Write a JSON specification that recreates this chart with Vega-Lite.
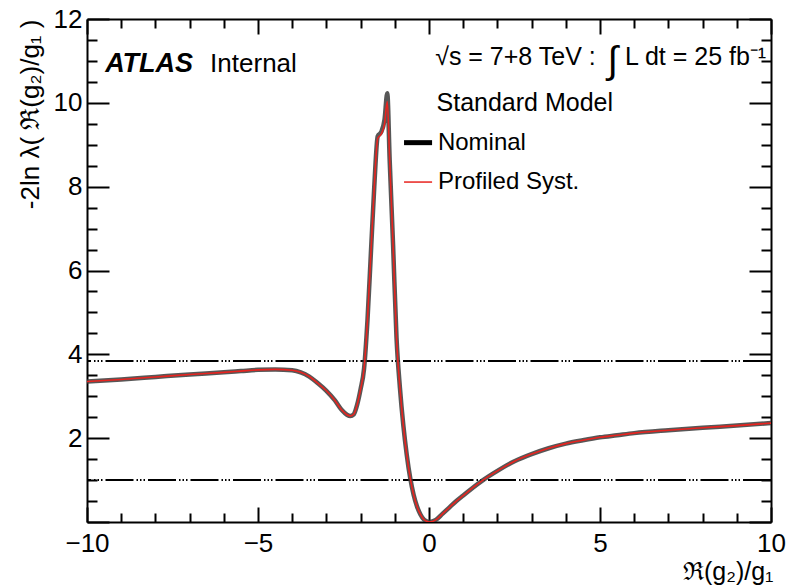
{
  "$schema": "https://vega.github.io/schema/vega-lite/v6.json",
  "width": 684,
  "height": 503,
  "autosize": {"type": "none"},
  "padding": {"left": 87, "top": 19, "right": 17, "bottom": 66},
  "background": "white",
  "config": {
    "view": {"stroke": null},
    "font": "Liberation Sans",
    "axis": {
      "grid": false,
      "domainColor": "black",
      "domainWidth": 2,
      "tickColor": "black",
      "tickWidth": 2,
      "labelColor": "black",
      "labelFont": "Liberation Sans",
      "labelFontSize": 26,
      "labelFlush": false,
      "labelOverlap": false,
      "titleColor": "black",
      "titleFont": "Liberation Sans",
      "titleFontWeight": "normal"
    },
    "text": {"font": "Liberation Sans", "color": "black"}
  },
  "datasets": {
    "curves": [
      {"series": "Nominal", "r": -10, "nll": 3.35},
      {"series": "Nominal", "r": -9, "nll": 3.4},
      {"series": "Nominal", "r": -8, "nll": 3.46},
      {"series": "Nominal", "r": -7, "nll": 3.52},
      {"series": "Nominal", "r": -6, "nll": 3.57},
      {"series": "Nominal", "r": -5.5, "nll": 3.6},
      {"series": "Nominal", "r": -5, "nll": 3.63},
      {"series": "Nominal", "r": -4.5, "nll": 3.64},
      {"series": "Nominal", "r": -4, "nll": 3.62},
      {"series": "Nominal", "r": -3.75, "nll": 3.57},
      {"series": "Nominal", "r": -3.5, "nll": 3.47},
      {"series": "Nominal", "r": -3.25, "nll": 3.31},
      {"series": "Nominal", "r": -3.0, "nll": 3.13},
      {"series": "Nominal", "r": -2.75, "nll": 2.9},
      {"series": "Nominal", "r": -2.55, "nll": 2.67},
      {"series": "Nominal", "r": -2.4, "nll": 2.56},
      {"series": "Nominal", "r": -2.3, "nll": 2.53},
      {"series": "Nominal", "r": -2.2, "nll": 2.57},
      {"series": "Nominal", "r": -2.1, "nll": 2.8},
      {"series": "Nominal", "r": -2.0, "nll": 3.17},
      {"series": "Nominal", "r": -1.9, "nll": 3.65},
      {"series": "Nominal", "r": -1.8, "nll": 4.8},
      {"series": "Nominal", "r": -1.7, "nll": 6.4},
      {"series": "Nominal", "r": -1.6, "nll": 8.0},
      {"series": "Nominal", "r": -1.5, "nll": 9.2},
      {"series": "Nominal", "r": -1.4, "nll": 9.3},
      {"series": "Nominal", "r": -1.3, "nll": 9.6},
      {"series": "Nominal", "r": -1.22, "nll": 10.23},
      {"series": "Nominal", "r": -1.15, "nll": 8.64},
      {"series": "Nominal", "r": -1.05, "nll": 6.6},
      {"series": "Nominal", "r": -0.95, "nll": 4.4},
      {"series": "Nominal", "r": -0.85, "nll": 3.2},
      {"series": "Nominal", "r": -0.75, "nll": 2.3},
      {"series": "Nominal", "r": -0.65, "nll": 1.6},
      {"series": "Nominal", "r": -0.55, "nll": 1.05},
      {"series": "Nominal", "r": -0.45, "nll": 0.65},
      {"series": "Nominal", "r": -0.35, "nll": 0.37},
      {"series": "Nominal", "r": -0.25, "nll": 0.18},
      {"series": "Nominal", "r": -0.15, "nll": 0.06},
      {"series": "Nominal", "r": -0.05, "nll": 0.01},
      {"series": "Nominal", "r": 0, "nll": 0.0},
      {"series": "Nominal", "r": 0.2, "nll": 0.05},
      {"series": "Nominal", "r": 0.4, "nll": 0.2},
      {"series": "Nominal", "r": 0.6, "nll": 0.35},
      {"series": "Nominal", "r": 0.8, "nll": 0.5},
      {"series": "Nominal", "r": 1.0, "nll": 0.63},
      {"series": "Nominal", "r": 1.3, "nll": 0.83},
      {"series": "Nominal", "r": 1.58, "nll": 1.0},
      {"series": "Nominal", "r": 2.0, "nll": 1.22},
      {"series": "Nominal", "r": 2.5, "nll": 1.45},
      {"series": "Nominal", "r": 3.0, "nll": 1.62},
      {"series": "Nominal", "r": 3.5, "nll": 1.76},
      {"series": "Nominal", "r": 4.0, "nll": 1.87},
      {"series": "Nominal", "r": 4.5, "nll": 1.95},
      {"series": "Nominal", "r": 5.0, "nll": 2.02},
      {"series": "Nominal", "r": 5.5, "nll": 2.07},
      {"series": "Nominal", "r": 6.0, "nll": 2.12},
      {"series": "Nominal", "r": 7.0, "nll": 2.19},
      {"series": "Nominal", "r": 8.0, "nll": 2.25},
      {"series": "Nominal", "r": 9.0, "nll": 2.3},
      {"series": "Nominal", "r": 10, "nll": 2.36},
      {"series": "Profiled Syst.", "r": -10, "nll": 3.35},
      {"series": "Profiled Syst.", "r": -9, "nll": 3.4},
      {"series": "Profiled Syst.", "r": -8, "nll": 3.46},
      {"series": "Profiled Syst.", "r": -7, "nll": 3.52},
      {"series": "Profiled Syst.", "r": -6, "nll": 3.57},
      {"series": "Profiled Syst.", "r": -5.5, "nll": 3.6},
      {"series": "Profiled Syst.", "r": -5, "nll": 3.63},
      {"series": "Profiled Syst.", "r": -4.5, "nll": 3.64},
      {"series": "Profiled Syst.", "r": -4, "nll": 3.62},
      {"series": "Profiled Syst.", "r": -3.75, "nll": 3.57},
      {"series": "Profiled Syst.", "r": -3.5, "nll": 3.47},
      {"series": "Profiled Syst.", "r": -3.25, "nll": 3.31},
      {"series": "Profiled Syst.", "r": -3.0, "nll": 3.13},
      {"series": "Profiled Syst.", "r": -2.75, "nll": 2.9},
      {"series": "Profiled Syst.", "r": -2.55, "nll": 2.67},
      {"series": "Profiled Syst.", "r": -2.4, "nll": 2.56},
      {"series": "Profiled Syst.", "r": -2.3, "nll": 2.53},
      {"series": "Profiled Syst.", "r": -2.2, "nll": 2.57},
      {"series": "Profiled Syst.", "r": -2.1, "nll": 2.8},
      {"series": "Profiled Syst.", "r": -2.0, "nll": 3.17},
      {"series": "Profiled Syst.", "r": -1.9, "nll": 3.65},
      {"series": "Profiled Syst.", "r": -1.8, "nll": 4.8},
      {"series": "Profiled Syst.", "r": -1.7, "nll": 6.4},
      {"series": "Profiled Syst.", "r": -1.6, "nll": 8.0},
      {"series": "Profiled Syst.", "r": -1.5, "nll": 9.15},
      {"series": "Profiled Syst.", "r": -1.4, "nll": 9.25},
      {"series": "Profiled Syst.", "r": -1.3, "nll": 9.5},
      {"series": "Profiled Syst.", "r": -1.22, "nll": 10.03},
      {"series": "Profiled Syst.", "r": -1.15, "nll": 8.64},
      {"series": "Profiled Syst.", "r": -1.05, "nll": 6.6},
      {"series": "Profiled Syst.", "r": -0.95, "nll": 4.4},
      {"series": "Profiled Syst.", "r": -0.85, "nll": 3.2},
      {"series": "Profiled Syst.", "r": -0.75, "nll": 2.3},
      {"series": "Profiled Syst.", "r": -0.65, "nll": 1.6},
      {"series": "Profiled Syst.", "r": -0.55, "nll": 1.05},
      {"series": "Profiled Syst.", "r": -0.45, "nll": 0.65},
      {"series": "Profiled Syst.", "r": -0.35, "nll": 0.37},
      {"series": "Profiled Syst.", "r": -0.25, "nll": 0.18},
      {"series": "Profiled Syst.", "r": -0.15, "nll": 0.06},
      {"series": "Profiled Syst.", "r": -0.05, "nll": 0.01},
      {"series": "Profiled Syst.", "r": 0, "nll": 0.0},
      {"series": "Profiled Syst.", "r": 0.2, "nll": 0.05},
      {"series": "Profiled Syst.", "r": 0.4, "nll": 0.2},
      {"series": "Profiled Syst.", "r": 0.6, "nll": 0.35},
      {"series": "Profiled Syst.", "r": 0.8, "nll": 0.5},
      {"series": "Profiled Syst.", "r": 1.0, "nll": 0.63},
      {"series": "Profiled Syst.", "r": 1.3, "nll": 0.83},
      {"series": "Profiled Syst.", "r": 1.58, "nll": 1.0},
      {"series": "Profiled Syst.", "r": 2.0, "nll": 1.22},
      {"series": "Profiled Syst.", "r": 2.5, "nll": 1.45},
      {"series": "Profiled Syst.", "r": 3.0, "nll": 1.62},
      {"series": "Profiled Syst.", "r": 3.5, "nll": 1.76},
      {"series": "Profiled Syst.", "r": 4.0, "nll": 1.87},
      {"series": "Profiled Syst.", "r": 4.5, "nll": 1.95},
      {"series": "Profiled Syst.", "r": 5.0, "nll": 2.02},
      {"series": "Profiled Syst.", "r": 5.5, "nll": 2.07},
      {"series": "Profiled Syst.", "r": 6.0, "nll": 2.12},
      {"series": "Profiled Syst.", "r": 7.0, "nll": 2.19},
      {"series": "Profiled Syst.", "r": 8.0, "nll": 2.25},
      {"series": "Profiled Syst.", "r": 9.0, "nll": 2.3},
      {"series": "Profiled Syst.", "r": 10, "nll": 2.36}
    ],
    "levels": [{"level": 1.0}, {"level": 3.84}]
  },
  "resolve": {"axis": {"x": "independent", "y": "independent"}},
  "layer": [
    {
      "data": {"name": "levels"},
      "mark": {"type": "rule", "color": "black", "strokeWidth": 2, "strokeDash": [28, 3, 1.5, 2, 1.5, 2, 1.5, 3]},
      "encoding": {
        "y": {"field": "level", "type": "quantitative", "scale": {"domain": [0, 12], "nice": false, "zero": false}, "axis": null}
      }
    },
    {
      "data": {"name": "curves"},
      "transform": [{"filter": "datum.series === 'Nominal'"}],
      "mark": {"type": "line", "color": "#3a3a3a", "strokeWidth": 4.5, "opacity": 0.85, "interpolate": "monotone", "clip": true},
      "encoding": {
        "x": {
          "field": "r", "type": "quantitative",
          "scale": {"domain": [-10, 10], "nice": false, "zero": false},
          "axis": {
            "orient": "bottom",
            "values": [-10, -9, -8, -7, -6, -5, -4, -3, -2, -1, 0, 1, 2, 3, 4, 5, 6, 7, 8, 9, 10],
            "tickSize": {"condition": {"test": "datum.value % 5 === 0", "value": -15}, "value": -9},
            "labelExpr": "datum.value % 5 === 0 ? datum.label : ''",
            "labelPadding": 23,
            "title": "ℜ(g₂)/g₁",
            "titleFontSize": 25,
            "titleAnchor": "end",
            "titleAlign": "right",
            "titleBaseline": "alphabetic",
            "titleX": 686,
            "titleY": 57
          }
        },
        "y": {
          "field": "nll", "type": "quantitative",
          "scale": {"domain": [0, 12], "nice": false, "zero": false},
          "axis": {
            "orient": "left",
            "values": [0, 0.5, 1, 1.5, 2, 2.5, 3, 3.5, 4, 4.5, 5, 5.5, 6, 6.5, 7, 7.5, 8, 8.5, 9, 9.5, 10, 10.5, 11, 11.5, 12],
            "tickSize": {"condition": {"test": "datum.value % 2 === 0", "value": -22}, "value": -10},
            "labelExpr": "datum.value % 2 === 0 && datum.value > 0 ? format(datum.value, 'd') : ''",
            "labelPadding": 27,
            "title": "-2ln λ( ℜ(g₂)/g₁ )",
            "titleFontSize": 26,
            "titleAnchor": "end",
            "titleAngle": -90,
            "titleAlign": "right",
            "titleBaseline": "middle",
            "titleX": -57,
            "titleY": 0
          }
        }
      }
    },
    {
      "data": {"name": "curves"},
      "transform": [{"filter": "datum.series === 'Profiled Syst.'"}],
      "mark": {"type": "line", "color": "#e8231f", "strokeWidth": 1.6, "interpolate": "monotone", "clip": true},
      "encoding": {
        "x": {
          "field": "r", "type": "quantitative",
          "scale": {"domain": [-10, 10], "nice": false, "zero": false},
          "axis": {
            "orient": "top",
            "values": [-10, -9, -8, -7, -6, -5, -4, -3, -2, -1, 0, 1, 2, 3, 4, 5, 6, 7, 8, 9, 10],
            "tickSize": {"condition": {"test": "datum.value % 5 === 0", "value": -15}, "value": -9},
            "labels": false,
            "title": null
          }
        },
        "y": {
          "field": "nll", "type": "quantitative",
          "scale": {"domain": [0, 12], "nice": false, "zero": false},
          "axis": {
            "orient": "right",
            "values": [0, 0.5, 1, 1.5, 2, 2.5, 3, 3.5, 4, 4.5, 5, 5.5, 6, 6.5, 7, 7.5, 8, 8.5, 9, 9.5, 10, 10.5, 11, 11.5, 12],
            "tickSize": {"condition": {"test": "datum.value % 2 === 0", "value": -22}, "value": -10},
            "labels": false,
            "title": null
          }
        }
      }
    },
    {
      "data": {"values": [{}]},
      "mark": {"type": "text", "align": "left", "baseline": "alphabetic", "fontSize": 27, "fontStyle": "italic", "fontWeight": "bold"},
      "encoding": {
        "x": {"datum": -9.47, "type": "quantitative", "axis": null},
        "y": {"datum": 10.74, "type": "quantitative", "axis": null},
        "text": {"value": "ATLAS"}
      }
    },
    {
      "data": {"values": [{}]},
      "mark": {"type": "text", "align": "left", "baseline": "alphabetic", "fontSize": 26},
      "encoding": {
        "x": {"datum": -6.4, "type": "quantitative", "axis": null},
        "y": {"datum": 10.74, "type": "quantitative", "axis": null},
        "text": {"value": "Internal"}
      }
    },
    {
      "data": {"values": [{}]},
      "mark": {"type": "text", "align": "left", "baseline": "middle", "fontSize": 25},
      "encoding": {
        "x": {"datum": 0.18, "type": "quantitative", "axis": null},
        "y": {"datum": 11.1, "type": "quantitative", "axis": null},
        "text": {"value": "√s = 7+8 TeV :"}
      }
    },
    {
      "data": {"values": [{}]},
      "mark": {"type": "text", "align": "center", "baseline": "middle", "fontSize": 38},
      "encoding": {
        "x": {"datum": 5.37, "type": "quantitative", "axis": null},
        "y": {"datum": 10.98, "type": "quantitative", "axis": null},
        "text": {"value": "∫"}
      }
    },
    {
      "data": {"values": [{}]},
      "mark": {"type": "text", "align": "left", "baseline": "middle", "fontSize": 25},
      "encoding": {
        "x": {"datum": 5.73, "type": "quantitative", "axis": null},
        "y": {"datum": 11.1, "type": "quantitative", "axis": null},
        "text": {"value": "L dt = 25 fb⁻¹"}
      }
    },
    {
      "data": {"values": [{}]},
      "mark": {"type": "text", "align": "left", "baseline": "middle", "fontSize": 25},
      "encoding": {
        "x": {"datum": 0.22, "type": "quantitative", "axis": null},
        "y": {"datum": 10.0, "type": "quantitative", "axis": null},
        "text": {"value": "Standard Model"}
      }
    },
    {
      "data": {"values": [{}]},
      "mark": {"type": "rule", "color": "black", "strokeWidth": 5},
      "encoding": {
        "x": {"datum": -0.73, "type": "quantitative", "axis": null},
        "x2": {"datum": 0.09},
        "y": {"datum": 9.05, "type": "quantitative", "axis": null}
      }
    },
    {
      "data": {"values": [{}]},
      "mark": {"type": "rule", "color": "#e8231f", "strokeWidth": 1.5},
      "encoding": {
        "x": {"datum": -0.73, "type": "quantitative", "axis": null},
        "x2": {"datum": 0.09},
        "y": {"datum": 8.11, "type": "quantitative", "axis": null}
      }
    },
    {
      "data": {"values": [{}]},
      "mark": {"type": "text", "align": "left", "baseline": "middle", "fontSize": 24},
      "encoding": {
        "x": {"datum": 0.26, "type": "quantitative", "axis": null},
        "y": {"datum": 9.05, "type": "quantitative", "axis": null},
        "text": {"value": "Nominal"}
      }
    },
    {
      "data": {"values": [{}]},
      "mark": {"type": "text", "align": "left", "baseline": "middle", "fontSize": 24},
      "encoding": {
        "x": {"datum": 0.26, "type": "quantitative", "axis": null},
        "y": {"datum": 8.11, "type": "quantitative", "axis": null},
        "text": {"value": "Profiled Syst."}
      }
    }
  ]
}
